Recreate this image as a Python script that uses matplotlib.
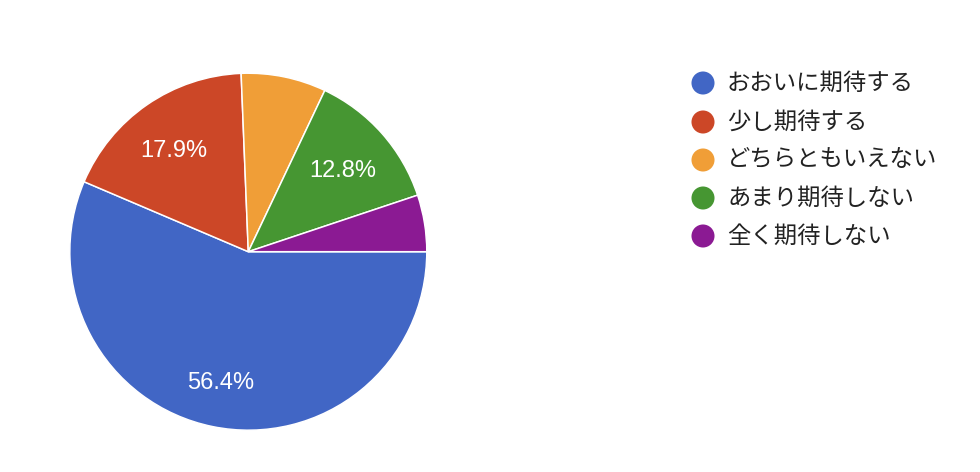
import matplotlib
matplotlib.use("Agg")
import matplotlib.pyplot as plt

categories = ["おおいに期待する", "少し期待する", "どちらともいえない", "あまり期待しない", "全く期待しない"]
counts = [22, 7, 3, 5, 2]
colors = ["#4166c5", "#cc4727", "#f09e37", "#469632", "#8b1a93"]

W, H = 980, 472
fig = plt.figure(figsize=(W / 100, H / 100), dpi=100)
ax = fig.add_axes([0, 0, 1, 1])

def fmt(p):
    return f"{p:.1f}%" if p >= 10 else ""

wedges, texts, autotexts = ax.pie(
    counts, colors=colors, startangle=0, counterclock=False,
    center=(248.3, H - 251.7), radius=178.5, autopct=fmt, pctdistance=0.72,
    wedgeprops=dict(edgecolor="white", linewidth=1.1),
    textprops=dict(color="white", fontsize=17, family=["Liberation Sans", "DejaVu Sans"]),
    frame=True,
)
for t in autotexts:
    x, y = t.get_position()
    t.set_position((x - 1.5, y - 5))
ax.set_xlim(0, W)
ax.set_ylim(0, H)
ax.set_aspect("equal")
ax.axis("off")

ys = [83, 122, 160, 198, 236]
for cat, col, y in zip(categories, colors, ys):
    ax.scatter([703], [H - y], s=275, color=col, edgecolors="none", zorder=5)
    ax.text(727, H - y, cat, fontsize=16.8, color="#222222", va="center", ha="left",
            family=["Noto Sans CJK JP", "DejaVu Sans"])

fig.savefig("out.png", dpi=100)
